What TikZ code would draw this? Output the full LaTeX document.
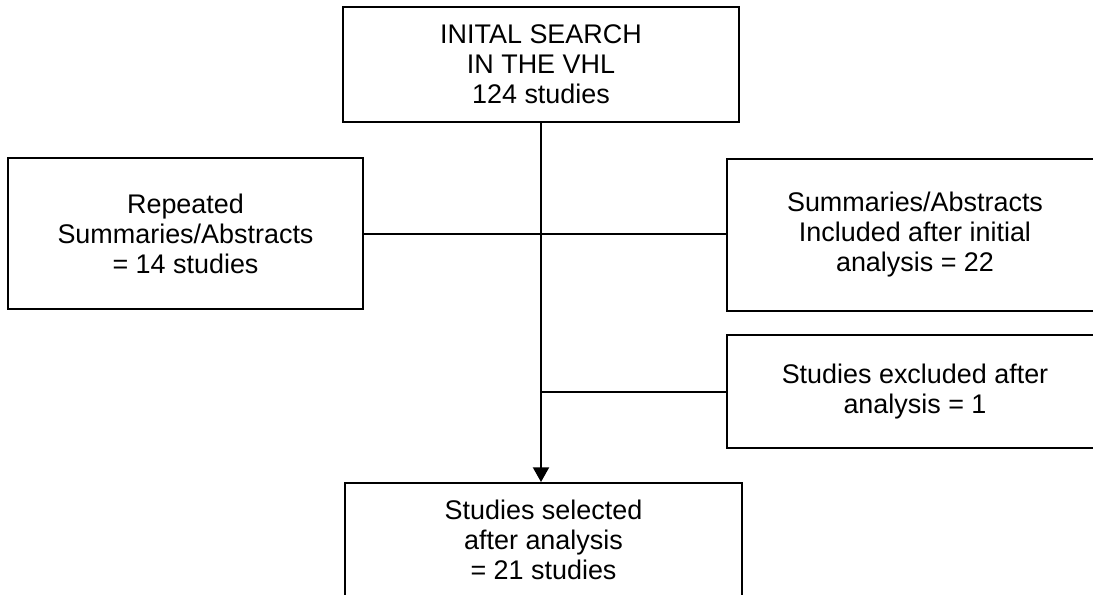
\documentclass[tikz,border=0pt]{standalone}
\usepackage{fontspec}
\setmainfont{Liberation Sans}
\usetikzlibrary{arrows.meta}

\begin{document}
\begin{tikzpicture}[x=0.75pt,y=-0.75pt,
        stagebox/.style={draw,line width=1.5pt,align=center,inner sep=0pt,font=\fontsize{20.2}{22.5}\selectfont},
        flowline/.style={line width=1.5pt}]
        \useasboundingbox (0,0) rectangle (1093,594);
        \clip (0,0) rectangle (1093,594);

        \node[stagebox,minimum width=297pt,minimum height=86.25pt] (search) at (541,64.5) {INITAL SEARCH\\IN THE VHL\\124 studies};
        \node[stagebox,minimum width=266.25pt,minimum height=113.25pt] (repeated) at (185.5,233.5) {Repeated\\Summaries/Abstracts\\= 14 studies};
        \node[stagebox,minimum width=282pt,minimum height=114pt] (included) at (915,235) {Summaries/Abstracts\\Included after initial\\analysis = 22};
        \node[stagebox,minimum width=282pt,minimum height=84.75pt] (excluded) at (915,391.5) {Studies excluded after\\analysis = 1};
        \node[stagebox,minimum width=297.75pt,minimum height=85.5pt] (selected) at (543.5,540) {Studies selected\\after analysis\\= 21 studies};

        \draw[flowline,-{Triangle[width=12pt,length=11pt]}] (search.south) -- (search.south |- selected.north);
        \draw[flowline] (repeated.east) -- (repeated.east -| included.west);
        \draw[flowline] (excluded.west) -- (excluded.west -| search.south);
\end{tikzpicture}
\end{document}
